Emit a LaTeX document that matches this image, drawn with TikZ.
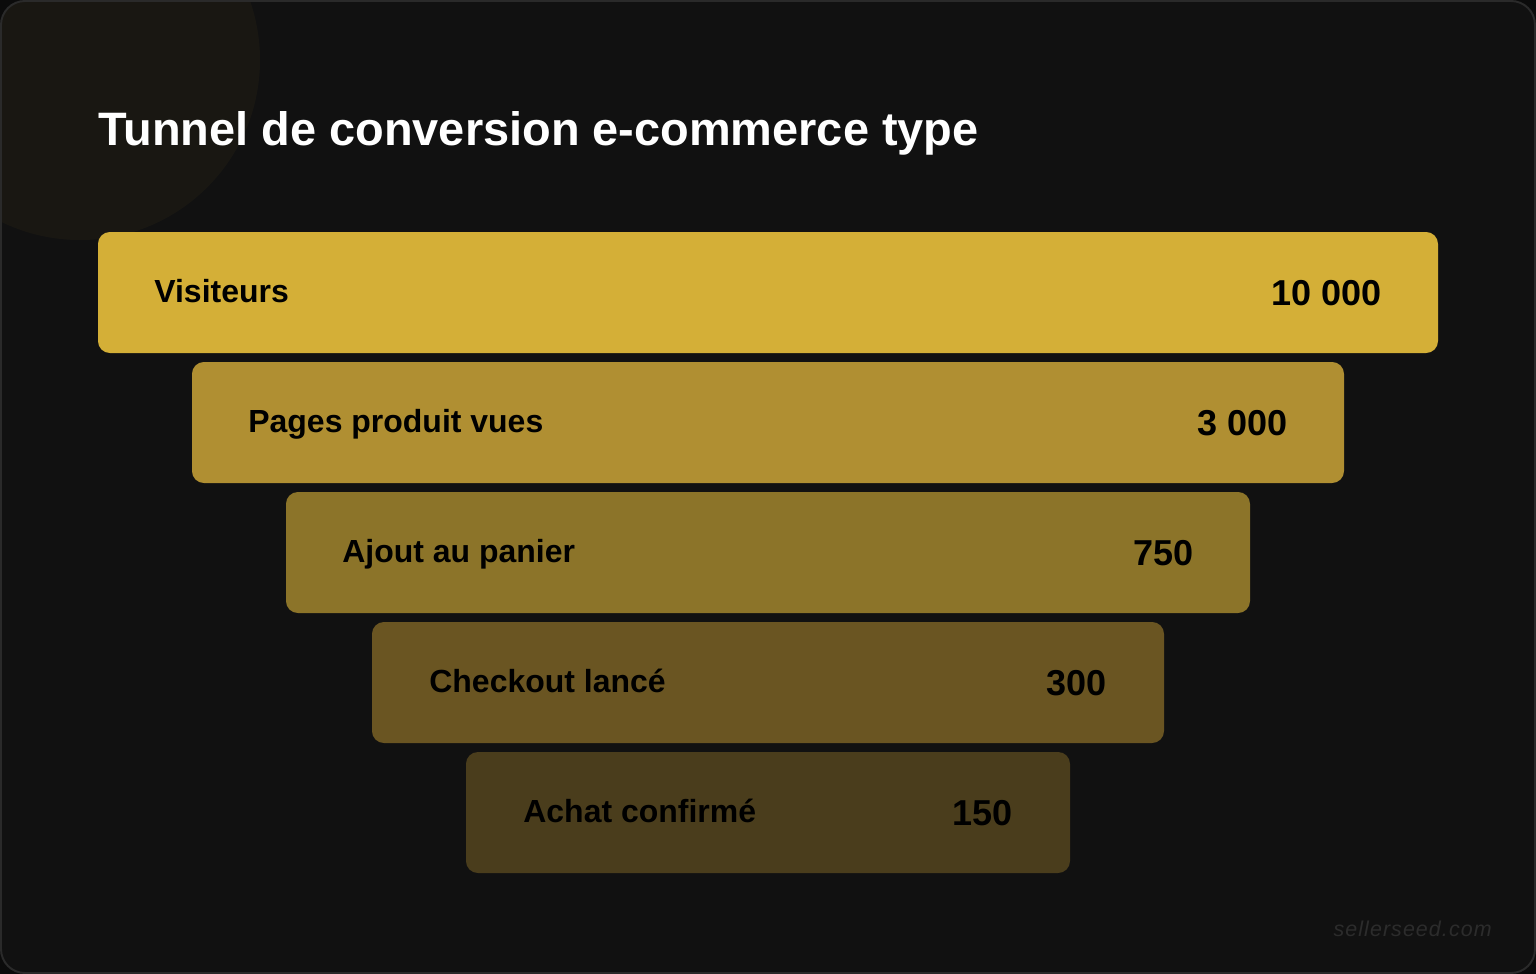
\documentclass[tikz,border=0pt]{standalone}
\usepackage{fontspec}
\setmainfont{Liberation Sans}
\newfontfamily\markfont[LetterSpace=5]{Liberation Sans}
\usetikzlibrary{calc}
\definecolor{pagebg}{HTML}{0B0B0B}
\definecolor{cardbg}{HTML}{111111}
\definecolor{cardline}{HTML}{2A2A2A}
\definecolor{gold}{HTML}{D4AF37}
\definecolor{goldB}{HTML}{B08F32}
\definecolor{goldC}{HTML}{8C7429}
\definecolor{goldD}{HTML}{6A5522}
\definecolor{goldE}{HTML}{4A3D1C}
\definecolor{markgray}{HTML}{2C2C2C}
\tikzset{
	bar/.style={rounded corners=6.8pt},
	steplabel/.style={anchor=base west, inner sep=0pt, text=black, font=\fontsize{18.2}{20}\selectfont\bfseries},
	stepvalue/.style={anchor=base east, inner sep=0pt, text=black, font=\fontsize{20.5}{22}\selectfont\bfseries}
}

\begin{document}
\begin{tikzpicture}[x=0.02cm, y=-0.02cm]
		%%%%% START %%%%%
		
		\fill[pagebg] (0, 0) rectangle (1536, 974);
		\useasboundingbox (0, 0) rectangle (1536, 974);
		
		\begin{scope}
			\clip[rounded corners=13.6pt] (1, 1) rectangle (1535, 973);
			\fill[cardbg] (0, 0) rectangle (1536, 974);
			\fill[gold, opacity=0.045] (80, 60) circle (180);
		\end{scope}
		\draw[cardline, line width=1.1pt, rounded corners=13.6pt] (1, 1) rectangle (1535, 973);
		
		\node[anchor=base west, inner sep=0pt, text=white, font=\fontsize{26.7}{30}\selectfont\bfseries] (title) at (98, 145) {Tunnel de conversion e-commerce type};
		
		\fill[bar, gold] (98, 232) rectangle (1438, 353);
		\node[steplabel] (visiteurs) at (154, 302) {Visiteurs};
		\node[stepvalue] (visiteursN) at (1382, 305) {10 000};
		
		\fill[bar, goldB] (192, 362) rectangle (1344, 483);
		\node[steplabel] (pages) at (248, 432) {Pages produit vues};
		\node[stepvalue] (pagesN) at (1288, 435) {3 000};
		
		\fill[bar, goldC] (286, 492) rectangle (1250, 613);
		\node[steplabel] (panier) at (342, 562) {Ajout au panier};
		\node[stepvalue] (panierN) at (1194, 565) {750};
		
		\fill[bar, goldD] (372, 622) rectangle (1164, 743);
		\node[steplabel] (checkout) at (429, 692) {Checkout lancé};
		\node[stepvalue] (checkoutN) at (1107, 695) {300};
		
		\fill[bar, goldE] (466, 752) rectangle (1070, 873);
		\node[steplabel] (achat) at (523, 822) {Achat confirmé};
		\node[stepvalue] (achatN) at (1013, 825) {150};
		
		\node[anchor=base east, inner sep=0pt, text=markgray, font=\fontsize{12.2}{14}\selectfont\markfont\itshape] (mark) at (1492, 936) {sellerseed.com};
		
		%%%%% END %%%%%
	\end{tikzpicture}
\end{document}
